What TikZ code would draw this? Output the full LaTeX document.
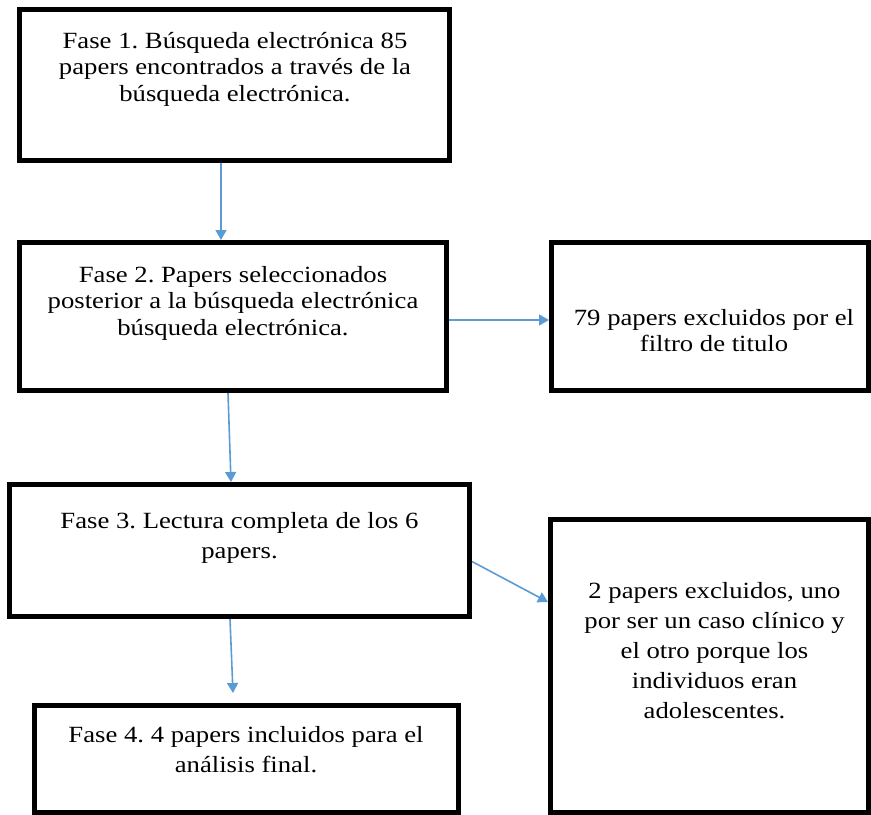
\documentclass[tikz,border=0pt]{standalone}
\usepackage{fontspec}
\newfontfamily\tnr[FakeStretch=1.15]{Liberation Serif}
\usetikzlibrary{arrows.meta}
\definecolor{arrowblue}{HTML}{5B9BD5}
\frenchspacing
\tikzset{
  box/.style={draw=black, line width=5bp, inner sep=0pt, fill=white},
  txt/.style={anchor=north, inner sep=0pt, align=center, text=black},
  txtA/.style={txt, font=\tnr\fontsize{23.3}{26.8}\selectfont},
  txtB/.style={txt, font=\tnr\fontsize{23.3}{30.2}\selectfont},
  arr/.style={draw=arrowblue, line width=1.6bp, -{Triangle[length=10bp,width=11bp]}}
}
\begin{document}
\begin{tikzpicture}[x=1bp,y=-1bp]
\useasboundingbox (0,0) rectangle (871,815);
% boxes
\node[box, minimum width=429.5bp, minimum height=151bp] (b1) at (234.75,85) {};
\node[box, minimum width=427bp, minimum height=148bp] (b2) at (233,316.5) {};
\node[box, minimum width=317bp, minimum height=148bp] (r1) at (710,316.5) {};
\node[box, minimum width=460bp, minimum height=132bp] (b3) at (239.5,550.5) {};
\node[box, minimum width=318bp, minimum height=293bp] (r2) at (709.5,666) {};
\node[box, minimum width=424bp, minimum height=107bp] (b4) at (246.5,759) {};
% texts
\node[txtA] (t1) at (235,29.2) {\strut Fase 1. Búsqueda electrónica 85\\papers encontrados a través de la\\búsqueda electrónica.};
\node[txtA] (t2) at (233,263.2) {\strut Fase 2. Papers seleccionados\\posterior a la búsqueda electrónica\\búsqueda electrónica.};
\node[txtA] (tr1) at (714,306.2) {\strut 79 papers excluidos por el\\filtro de titulo};
\node[txtB] (t3) at (239.5,507) {\strut Fase 3. Lectura completa de los 6\\papers.};
\node[txtB] (tr2) at (714.5,576.8) {\strut 2 papers excluidos, uno\\por ser un caso clínico y\\el otro porque los\\individuos eran\\adolescentes.};
\node[txtB] (t4) at (246,721) {\strut Fase 4. 4 papers incluidos para el\\análisis final.};
% connectors
\draw[arr] ([xshift=-13.75bp]b1.south) -- ([xshift=-13.75bp]b1.south |- b2.north);
\draw[arr] ([xshift=-5bp]b2.south) -- ([xshift=-8.5bp]b3.north);
\draw[arr] ([xshift=-9.5bp]b3.south) -- ([xshift=-13.5bp,yshift=10bp]b4.north);
\draw[arr] ([yshift=-3.5bp]b2.east) -- ([yshift=-3.5bp]b2.east -| r1.west);
\draw[arr] ([yshift=-11bp]b3.east) -- ([yshift=64bp]r2.west);
\end{tikzpicture}
\end{document}
